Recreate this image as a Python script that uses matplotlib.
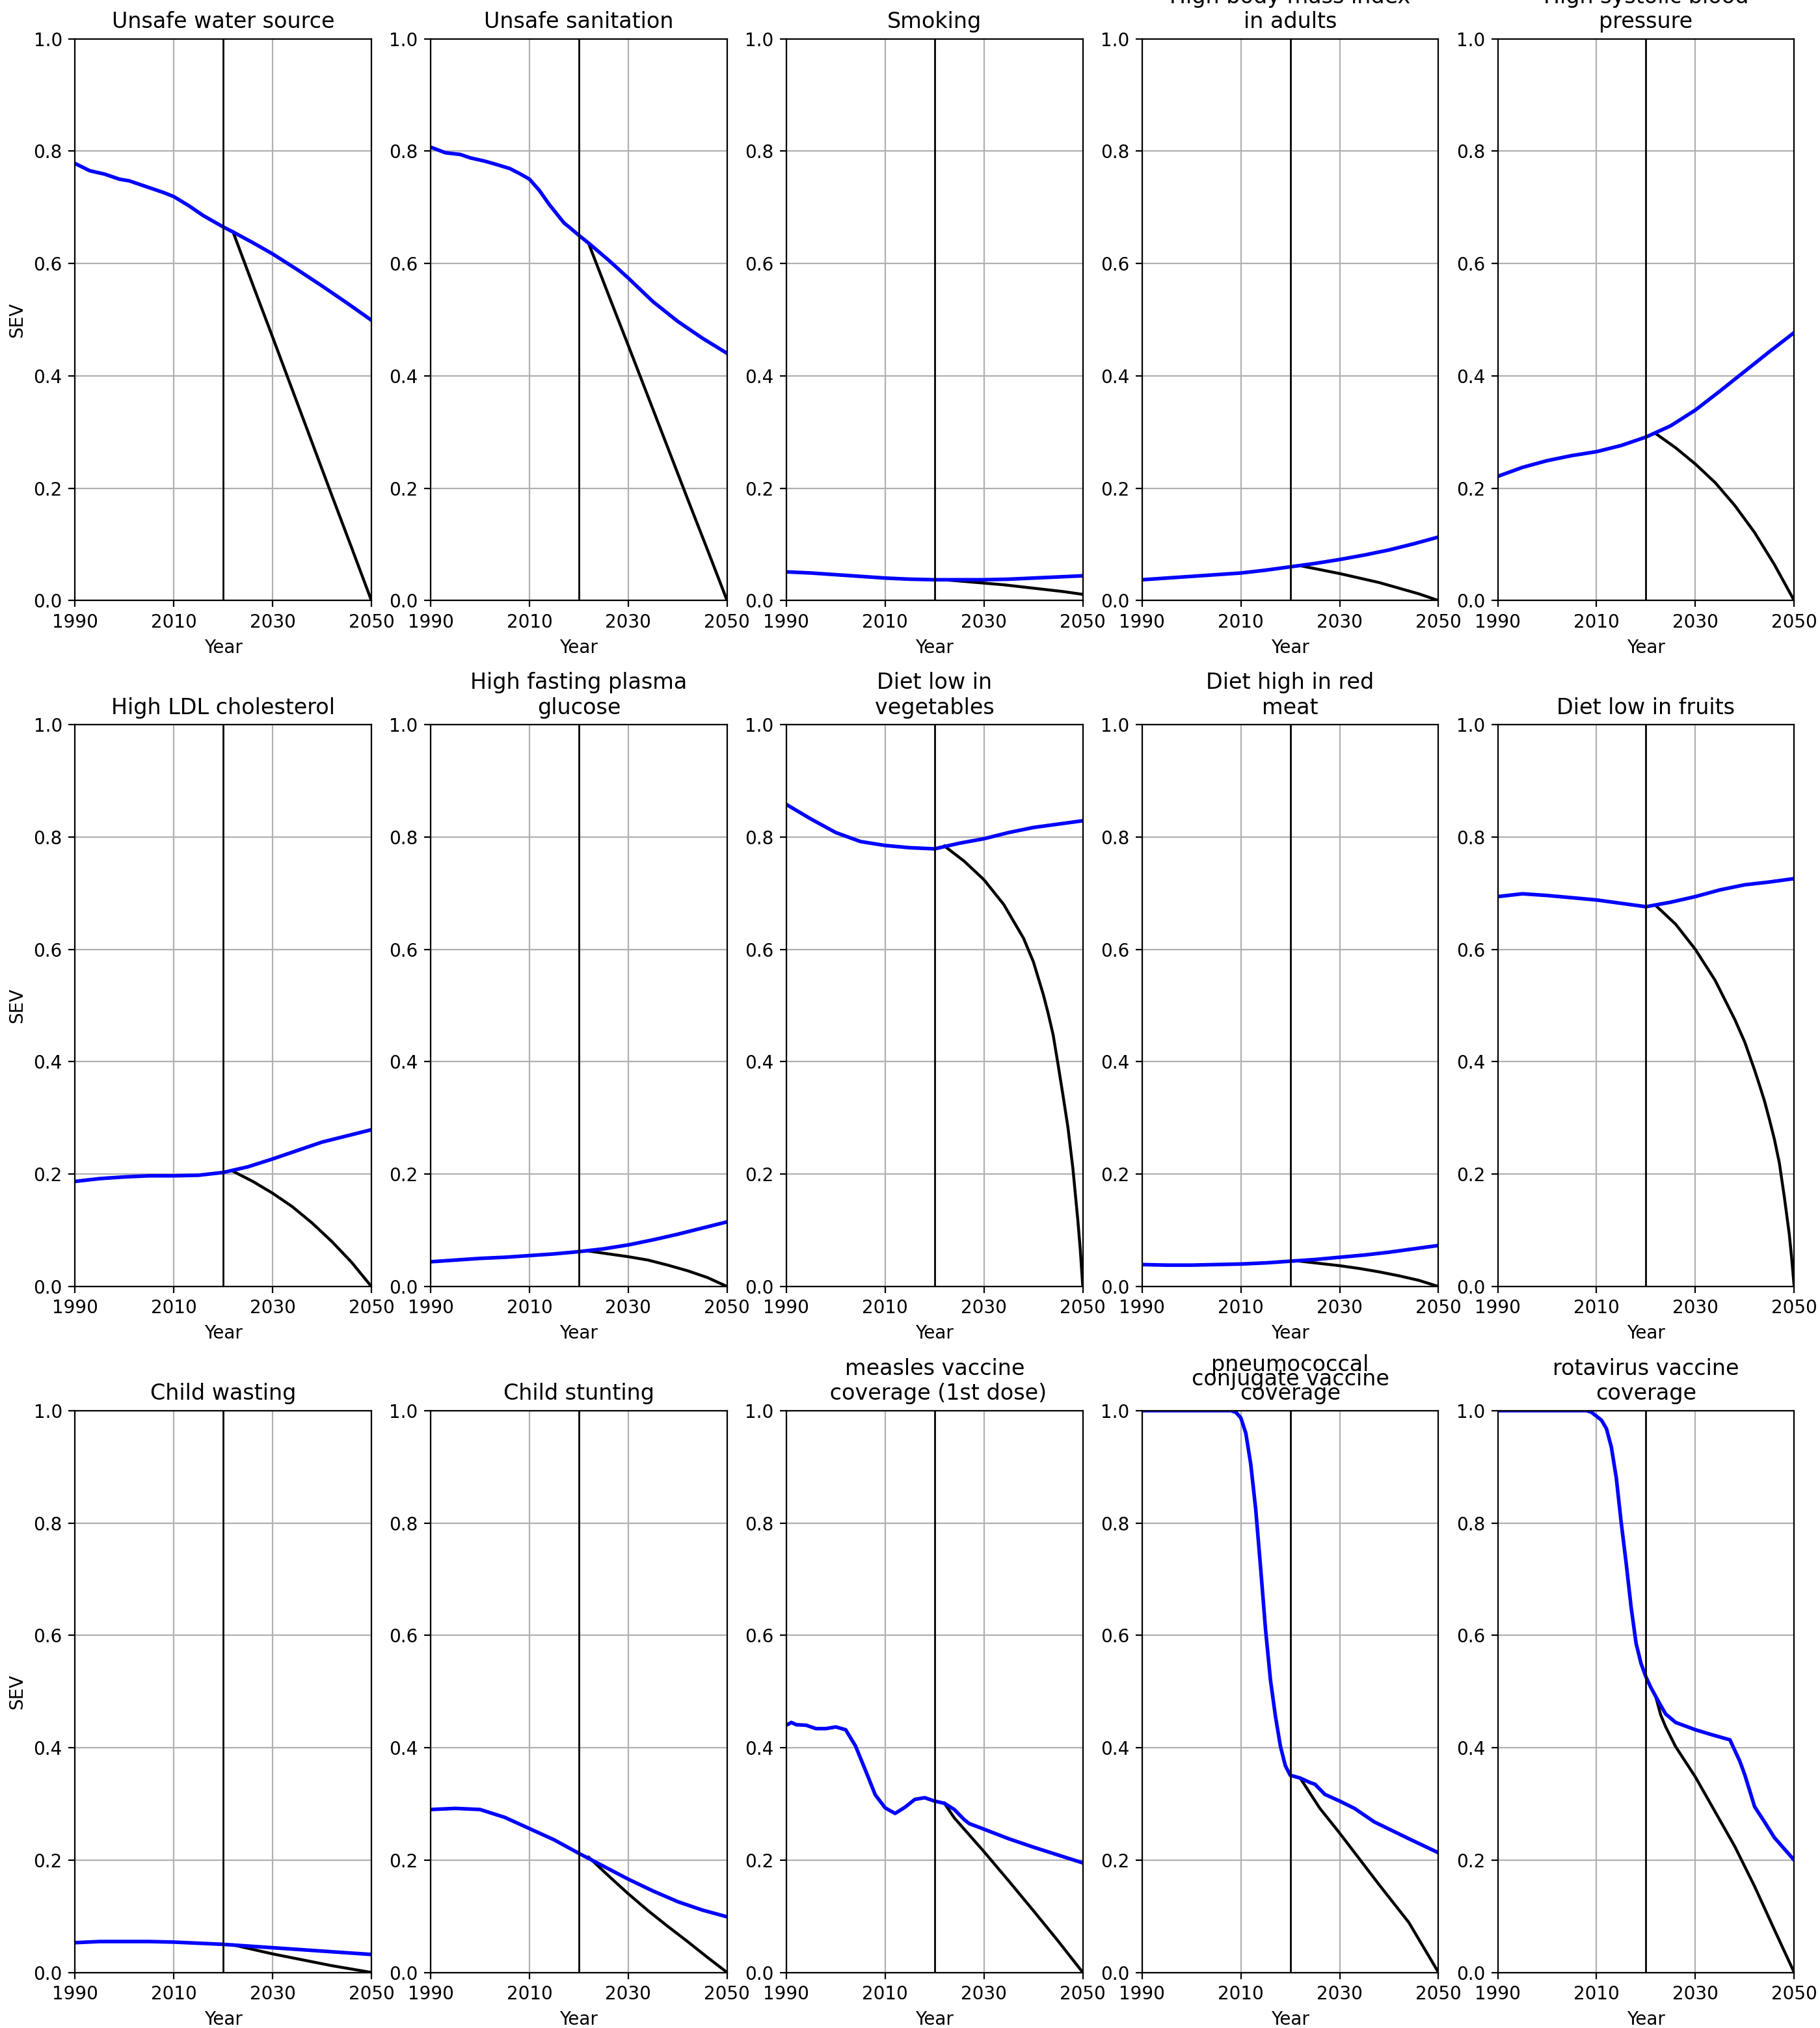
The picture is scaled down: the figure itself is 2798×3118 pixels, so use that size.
import matplotlib
matplotlib.use("Agg")
import matplotlib.pyplot as plt

# common year grids
ref_years = [1990, 1995, 2000, 2005, 2010, 2015, 2020, 2025, 2030, 2035, 2040, 2045, 2050]
tgt_years = [2022, 2026, 2030, 2034, 2038, 2042, 2046, 2050]

titles = [
    "Unsafe water source", "Unsafe sanitation", "Smoking",
    "High body mass index\nin adults", "High systolic blood\npressure",
    "High LDL cholesterol", "High fasting plasma\nglucose", "Diet low in\nvegetables",
    "Diet high in red\nmeat", "Diet low in fruits",
    "Child wasting", "Child stunting", "measles vaccine\n coverage (1st dose)",
    "pneumococcal\nconjugate vaccine\ncoverage", "rotavirus vaccine\ncoverage",
]

# reference (blue) and target (black) SEV values
water_years = [1990, 1993, 1996, 1999, 2001, 2003, 2006, 2008, 2010, 2013, 2016, 2018, 2020,
               2022, 2026, 2030, 2035, 2040, 2045, 2050]
water_ref = [0.778, 0.765, 0.759, 0.750, 0.747, 0.741, 0.732, 0.726, 0.719, 0.703, 0.685, 0.675, 0.665,
             0.656, 0.637, 0.617, 0.589, 0.560, 0.530, 0.499]
water_tgt = [0.656, 0.562, 0.469, 0.375, 0.281, 0.187, 0.094, 0.0]

sanit_years = [1990, 1993, 1996, 1998, 2001, 2003, 2006, 2008, 2010, 2012, 2014, 2016, 2017, 2018,
               2020, 2022, 2026, 2030, 2035, 2040, 2045, 2050]
sanit_ref = [0.807, 0.797, 0.794, 0.788, 0.782, 0.777, 0.769, 0.760, 0.750, 0.730, 0.705, 0.683, 0.672, 0.665,
             0.650, 0.636, 0.606, 0.574, 0.532, 0.497, 0.467, 0.440]
sanit_tgt = [0.635, 0.544, 0.454, 0.363, 0.272, 0.181, 0.091, 0.0]

smoke_ref = [0.051, 0.049, 0.046, 0.043, 0.040, 0.038, 0.037, 0.037, 0.037, 0.038, 0.040, 0.042, 0.044]
smoke_tgt = [0.037, 0.034, 0.031, 0.028, 0.024, 0.020, 0.016, 0.011]

bmi_ref = [0.037, 0.040, 0.043, 0.046, 0.049, 0.054, 0.060, 0.066, 0.073, 0.081, 0.090, 0.101, 0.113]
bmi_tgt = [0.062, 0.055, 0.048, 0.040, 0.032, 0.022, 0.012, 0.0]

sbp_ref = [0.221, 0.237, 0.249, 0.258, 0.265, 0.276, 0.291, 0.311, 0.339, 0.373, 0.408, 0.443, 0.477]
sbp_tgt = [0.297, 0.272, 0.243, 0.210, 0.169, 0.121, 0.064, 0.0]

ldl_ref = [0.187, 0.192, 0.195, 0.197, 0.197, 0.198, 0.203, 0.213, 0.227, 0.242, 0.257, 0.268, 0.279]
ldl_tgt = [0.205, 0.187, 0.166, 0.142, 0.113, 0.080, 0.043, 0.0]

fpg_ref = [0.044, 0.047, 0.050, 0.052, 0.055, 0.058, 0.062, 0.067, 0.074, 0.083, 0.093, 0.104, 0.115]
fpg_tgt = [0.063, 0.058, 0.053, 0.047, 0.038, 0.028, 0.016, 0.0]

veg_ref = [0.858, 0.832, 0.808, 0.792, 0.785, 0.781, 0.779, 0.789, 0.797, 0.808, 0.817, 0.823, 0.829]
veg_tgt_years = [2022, 2026, 2030, 2034, 2038, 2040, 2042, 2043, 2044, 2045, 2046, 2047, 2048, 2049,
                 2049.5, 2050]
veg_tgt = [0.784, 0.757, 0.724, 0.680, 0.620, 0.578, 0.520, 0.486, 0.448, 0.395, 0.340, 0.283, 0.210, 0.118,
           0.065, 0.0]

meat_ref = [0.039, 0.038, 0.038, 0.039, 0.040, 0.042, 0.045, 0.048, 0.052, 0.056, 0.061, 0.067, 0.073]
meat_tgt = [0.045, 0.041, 0.037, 0.032, 0.026, 0.019, 0.011, 0.0]

fruit_ref = [0.694, 0.699, 0.696, 0.692, 0.688, 0.682, 0.676, 0.684, 0.694, 0.706, 0.715, 0.720, 0.726]
fruit_tgt_years = [2022, 2026, 2030, 2034, 2038, 2040, 2042, 2043, 2044, 2045, 2046, 2047, 2048, 2049,
                   2049.5, 2050]
fruit_tgt = [0.678, 0.645, 0.600, 0.545, 0.475, 0.435, 0.385, 0.358, 0.330, 0.297, 0.262, 0.220, 0.160, 0.094,
             0.050, 0.0]

wast_ref = [0.053, 0.055, 0.055, 0.055, 0.054, 0.052, 0.050, 0.047, 0.044, 0.041, 0.038, 0.035, 0.032]
wast_tgt = [0.049, 0.041, 0.033, 0.026, 0.019, 0.012, 0.006, 0.0]

stunt_ref = [0.290, 0.292, 0.290, 0.276, 0.256, 0.236, 0.212, 0.189, 0.166, 0.145, 0.126, 0.111, 0.099]
stunt_tgt = [0.205, 0.172, 0.140, 0.110, 0.082, 0.055, 0.027, 0.0]

measles_years = [1990, 1991, 1992, 1994, 1996, 1998, 2000, 2002, 2004, 2006, 2008, 2010, 2012,
                 2014, 2016, 2018, 2020, 2022, 2024, 2026, 2027, 2030, 2035, 2040, 2045, 2050]
measles_ref = [0.440, 0.445, 0.441, 0.440, 0.434, 0.434, 0.437, 0.432, 0.403, 0.360, 0.316, 0.293, 0.283,
               0.294, 0.308, 0.311, 0.305, 0.301, 0.290, 0.272, 0.265, 0.255, 0.238, 0.223, 0.209, 0.195]
measles_tgt_years = [2022, 2024, 2026, 2027, 2030, 2035, 2040, 2045, 2050]
measles_tgt = [0.301, 0.275, 0.255, 0.245, 0.215, 0.163, 0.110, 0.056, 0.0]

pcv_years = [1990, 2000, 2008, 2009, 2010, 2011, 2012, 2013, 2014, 2015, 2016, 2017, 2018, 2019,
             2020, 2022, 2024, 2025, 2027, 2030, 2033, 2037, 2044, 2050]
pcv_ref = [1.0, 1.0, 1.0, 0.997, 0.987, 0.960, 0.905, 0.825, 0.720, 0.610, 0.520, 0.456, 0.403, 0.368,
           0.351, 0.346, 0.338, 0.335, 0.317, 0.305, 0.292, 0.268, 0.238, 0.213]
pcv_tgt_years = [2022, 2026, 2030, 2034, 2038, 2044, 2050]
pcv_tgt = [0.346, 0.292, 0.248, 0.202, 0.156, 0.089, 0.0]

rota_years = [1990, 2000, 2008, 2009, 2010, 2011, 2012, 2013, 2014, 2015, 2016, 2017, 2018, 2019,
              2020, 2021, 2023, 2024, 2026, 2030, 2033, 2037, 2039, 2040, 2042, 2044, 2046, 2048, 2050]
rota_ref = [1.0, 1.0, 1.0, 0.997, 0.990, 0.983, 0.968, 0.935, 0.880, 0.800, 0.728, 0.650, 0.586, 0.550,
            0.526, 0.507, 0.475, 0.460, 0.445, 0.432, 0.424, 0.414, 0.376, 0.352, 0.295, 0.268, 0.240, 0.220, 0.200]
rota_tgt_years = [2022, 2023, 2024, 2026, 2028, 2030, 2034, 2038, 2042, 2046, 2050]
rota_tgt = [0.490, 0.458, 0.437, 0.402, 0.375, 0.348, 0.286, 0.224, 0.153, 0.076, 0.0]

panels = [
    (water_years, water_ref, tgt_years, water_tgt),
    (sanit_years, sanit_ref, tgt_years, sanit_tgt),
    (ref_years, smoke_ref, tgt_years, smoke_tgt),
    (ref_years, bmi_ref, tgt_years, bmi_tgt),
    (ref_years, sbp_ref, tgt_years, sbp_tgt),
    (ref_years, ldl_ref, tgt_years, ldl_tgt),
    (ref_years, fpg_ref, tgt_years, fpg_tgt),
    (ref_years, veg_ref, veg_tgt_years, veg_tgt),
    (ref_years, meat_ref, tgt_years, meat_tgt),
    (ref_years, fruit_ref, fruit_tgt_years, fruit_tgt),
    (ref_years, wast_ref, tgt_years, wast_tgt),
    (ref_years, stunt_ref, tgt_years, stunt_tgt),
    (measles_years, measles_ref, measles_tgt_years, measles_tgt),
    (pcv_years, pcv_ref, pcv_tgt_years, pcv_tgt),
    (rota_years, rota_ref, rota_tgt_years, rota_tgt),
]

fig, axes = plt.subplots(3, 5, figsize=(13.99, 15.59), dpi=200)
fig.subplots_adjust(left=0.0412, right=0.9858, top=0.9809, bottom=0.0274,
                    wspace=0.2, hspace=0.221)

for i, ax in enumerate(axes.flat):
    x_ref, y_ref, x_tgt, y_tgt = panels[i]
    ax.plot(x_tgt, y_tgt, color="black", linewidth=1.6)
    ax.plot(x_ref, y_ref, color="blue", linewidth=2)
    ax.axvline(2020, color="black", linewidth=1)
    ax.set_xlim(1990, 2050)
    ax.set_ylim(0, 1)
    ax.set_xticks([1990, 2010, 2030, 2050])
    ax.grid(True)
    ax.set_xlabel("Year")
    if i % 5 == 0:
        ax.set_ylabel("SEV")
    if i == 13:
        # the three-line title is squeezed together in the original
        ax.set_title(titles[i], linespacing=0.58)
    else:
        ax.set_title(titles[i])

plt.savefig("out.png")
